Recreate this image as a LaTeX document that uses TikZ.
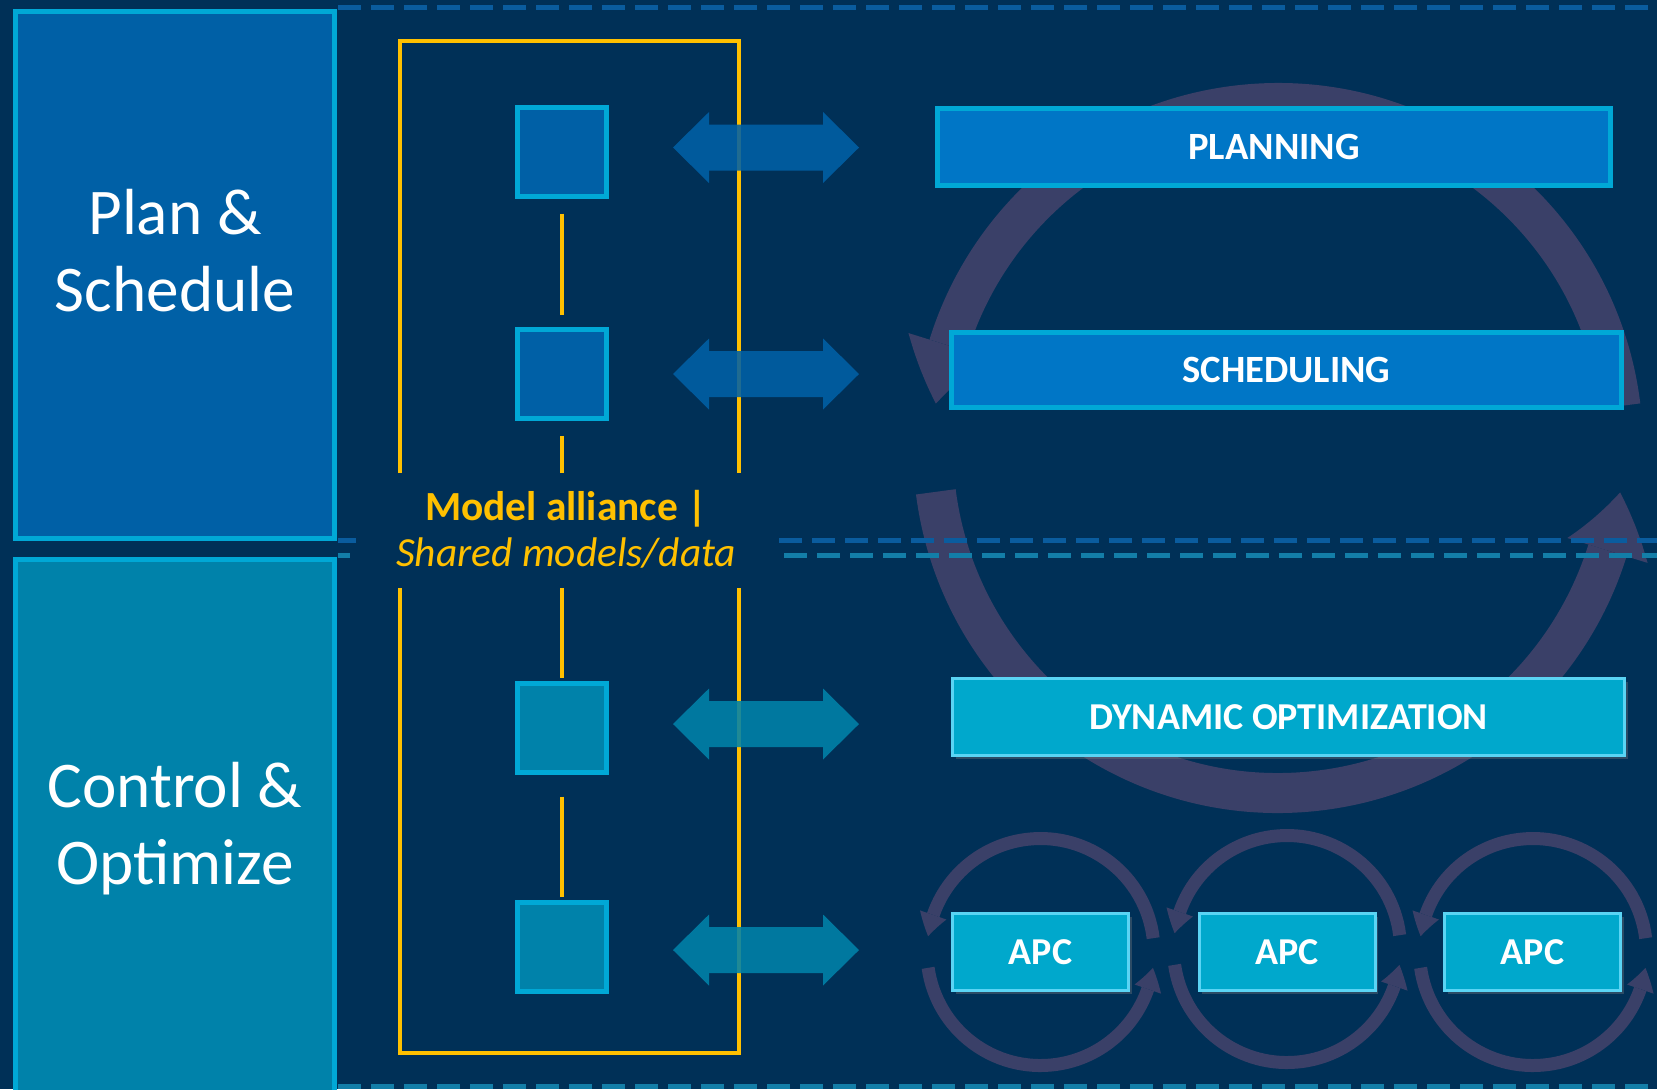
\documentclass[tikz,border=0pt]{standalone}
\usepackage{fontspec}
\setmainfont{Carlito}
\usepackage{tikz}
\usetikzlibrary{positioning,shapes,arrows.meta,bending,shadows}
\definecolor{navybg}{RGB}{0,48,87}
\definecolor{planblue}{RGB}{0,96,166}
\definecolor{ctrlteal}{RGB}{0,130,170}
\definecolor{edgecyan}{RGB}{0,168,214}
\definecolor{taskblue}{RGB}{0,118,198}
\definecolor{optcyan}{RGB}{0,168,204}
\definecolor{optedge}{RGB}{90,212,244}
\definecolor{alliance}{RGB}{255,192,0}
\definecolor{loopgray}{RGB}{58,64,104}
\definecolor{dashblue}{RGB}{10,92,158}
\definecolor{dashteal}{RGB}{19,126,168}

\begin{document}
\begin{tikzpicture}[x=0.5pt, y=0.5pt]
    \tikzstyle{layer} = [rectangle, draw=edgecyan, line width=2.5pt, minimum width=159.5pt, inner sep=0pt]
    \tikzstyle{layertext} = [text=white, align=center, font=\fontsize{32.6}{38.5}\selectfont]
    \tikzstyle{model} = [rectangle, draw=edgecyan, line width=2.5pt, minimum width=44.5pt, minimum height=44.5pt, inner sep=0pt]
    \tikzstyle{task} = [rectangle, draw=edgecyan, fill=taskblue, line width=2.5pt, text=white, font=\fontsize{19.3}{22}\selectfont\bfseries, inner sep=0pt]
    \tikzstyle{control} = [rectangle, draw=optedge, fill=optcyan, line width=1.5pt, text=white, font=\fontsize{19}{22}\selectfont\bfseries, minimum height=38.5pt, inner sep=0pt, drop shadow={shadow xshift=1.5pt, shadow yshift=-1.5pt, opacity=0.35}]
    \tikzstyle{share} = [draw=alliance, line width=2.2pt]
    \tikzstyle{sharetext} = [text=alliance, align=center, font=\fontsize{20.7}{23.2}\selectfont]
    \tikzstyle{link} = [line width=23pt, {Triangle[length=18pt, width=35.5pt, line width=0pt]}-{Triangle[length=18pt, width=35.5pt, line width=0pt]}]
    \tikzstyle{bigring} = [draw=loopgray, line width=20pt, -{Triangle[length=30pt, width=42pt, line width=0pt, bend]}]
    \tikzstyle{smallring} = [draw=loopgray, line width=6.5pt, -{Triangle[length=11pt, width=14pt, line width=0pt, bend]}]
    \tikzstyle{sepline} = [line width=2.5pt, dash pattern=on 11.5pt off 5pt]

    % Page
    \fill[navybg] (0,0) rectangle (1657,-1089);
    \useasboundingbox (0,0) rectangle (1657,-1089);
    \clip (0,0) rectangle (1657,-1089);

    % Loop centres
    \coordinate (bigloop) at (1278,-448);
    \coordinate (loopa) at (1040.5,-952);
    \coordinate (loopb) at (1287,-949);
    \coordinate (loopc) at (1533,-952);

    % Loops
    \draw[bigring] (bigloop) ++(7:345) arc[start angle=7, end angle=172.6, radius=345];
    \draw[bigring] (bigloop) ++(187.3:345) arc[start angle=187.3, end angle=352.6, radius=345];
    \draw[smallring] (loopa) ++(7:113.5) arc[start angle=7, end angle=172, radius=113.5];
    \draw[smallring] (loopa) ++(188:113.5) arc[start angle=188, end angle=352, radius=113.5];
    \draw[smallring] (loopb) ++(7:113.5) arc[start angle=7, end angle=172, radius=113.5];
    \draw[smallring] (loopb) ++(188:113.5) arc[start angle=188, end angle=352, radius=113.5];
    \draw[smallring] (loopc) ++(7:113.5) arc[start angle=7, end angle=172, radius=113.5];
    \draw[smallring] (loopc) ++(188:113.5) arc[start angle=188, end angle=352, radius=113.5];

    % Layer separators
    \draw[sepline, dashblue] (338,-7) -- (1660,-7);
    \draw[sepline, dashblue] (338,-540) -- (356,-540);
    \draw[sepline, dashblue] (779,-540) -- (1660,-540);
    \draw[sepline, dashteal] (338,-555) -- (350,-555);
    \draw[sepline, dashteal] (784,-555) -- (1660,-555);
    \draw[sepline, dashteal] (338,-1086) -- (1660,-1086);

    % Layers
    \node [layer, fill=planblue, minimum height=263.5pt] (plan) at (175,-275) {};
    \node [layer, fill=ctrlteal, minimum height=270.25pt] (ctrl) at (175,-829.75) {};
    \node [layertext] (plantext) at (175,-251) {Plan \&\\Schedule};
    \node [layertext] (ctrltext) at (175,-829) {Control \&\\Optimize};

    % Task boxes
    \node [task, minimum width=336.5pt, minimum height=38.25pt] (planning) at (1274,-146.75) {PLANNING};
    \node [task, minimum width=335pt, minimum height=37.5pt] (scheduling) at (1286.5,-370) {SCHEDULING};
    \node [control, minimum width=336pt] (dynopt) at (1288.5,-717) {DYNAMIC OPTIMIZATION};
    \node [control, minimum width=88pt] (apc1) at (1040.5,-952) {APC};
    \node [control, minimum width=88pt] (apc2) at (1287,-952) {APC};
    \node [control, minimum width=88pt] (apc3) at (1532.5,-952) {APC};

    % Model alliance frame
    \coordinate (gaptop) at (400,-473);
    \coordinate (gapbot) at (400,-588);
    \draw[share] (gaptop) -- (400,-41) -- (739,-41) -- (739,-473);
    \draw[share] (gapbot) -- (400,-1053) -- (739,-1053) -- (739,-588);
    \node [sharetext] (alliance) at (566,-529) {\textbf{Model alliance |}\\\textit{Shared models/data}};

    % Shared models
    \node [model, fill=planblue] (plansq) at (562,-151.5) {};
    \node [model, fill=planblue] (schedsq) at (562,-374) {};
    \node [model, fill=ctrlteal] (dynsq) at (562,-727.5) {};
    \node [model, fill=ctrlteal] (apcsq) at (562,-946.5) {};
    \draw[share] ([yshift=-7.5pt]plansq.south) -- ([yshift=6pt]schedsq.north);
    \draw[share] ([yshift=-7.5pt]schedsq.south) -- (schedsq.south |- gaptop);
    \draw[share] (dynsq.north |- gapbot) -- ([yshift=1.5pt]dynsq.north);
    \draw[share] ([yshift=-11pt]dynsq.south) -- ([yshift=1.5pt]apcsq.north);

    % Exchange arrows
    \begin{scope}[transparency group, opacity=0.88]
    \draw[link, planblue] ([xshift=32pt, yshift=2pt]plansq.east) -- ([xshift=125pt, yshift=2pt]plansq.east);
    \draw[link, planblue] ([xshift=32pt]schedsq.east) -- ([xshift=125pt]schedsq.east);
    \draw[link, ctrlteal] ([xshift=32pt, yshift=1.75pt]dynsq.east) -- ([xshift=125pt, yshift=1.75pt]dynsq.east);
    \draw[link, ctrlteal] ([xshift=32pt, yshift=-1.75pt]apcsq.east) -- ([xshift=125pt, yshift=-1.75pt]apcsq.east);
    \end{scope}
\end{tikzpicture}
\end{document}
